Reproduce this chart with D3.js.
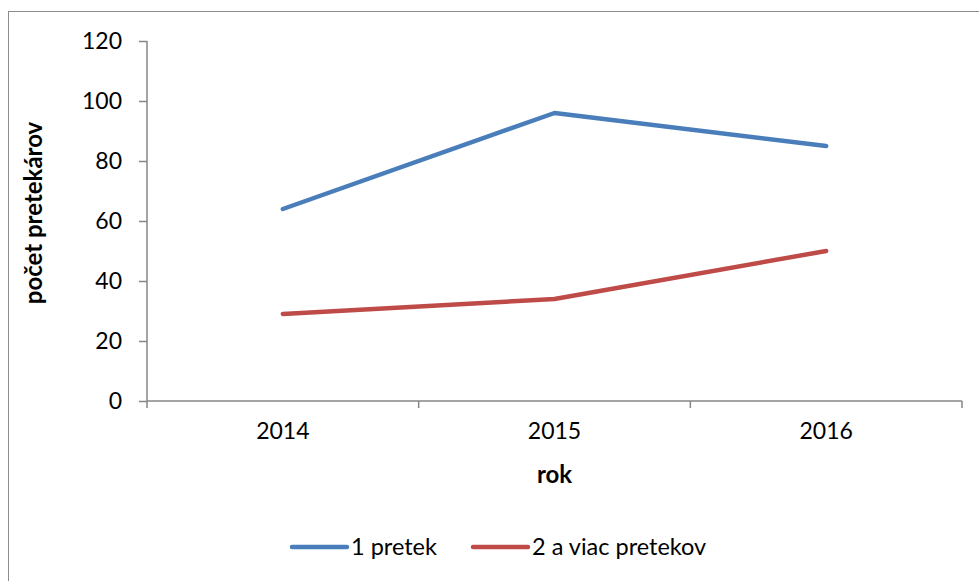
<!DOCTYPE html>
<html>
<head>
<meta charset="utf-8">
<script src="https://cdn.jsdelivr.net/npm/d3@7"></script>
<style>
  body { margin: 0; background: #fff; }
  svg text { font-family: Lato, "Open Sans", sans-serif; fill: #000; }
</style>
</head>
<body>
<svg id="chart"></svg>
<script>
// data
const years = ["2014", "2015", "2016"];
const onerace = [64, 96, 85];
const moreraces = [29, 34, 50];
const seriesNames = ["1 pretek", "2 a viac pretekov"];
const yTicks = [0, 20, 40, 60, 80, 100, 120];

const W = 979, H = 581;
const margin = { top: 41, right: 17, bottom: 180, left: 147 };
const width = W - margin.left - margin.right;
const height = H - margin.top - margin.bottom;

const svg = d3.select("#chart").attr("width", W).attr("height", H);

// chart border
svg.append("rect")
    .attr("x", 8.5).attr("y", 11.5)
    .attr("width", W).attr("height", H)
    .attr("fill", "none").attr("stroke", "#8c8c8c").attr("stroke-width", 1);

const g = svg.append("g").attr("transform", `translate(${margin.left},${margin.top})`);

const x = d3.scaleBand().domain(years).range([0, width]);
const y = d3.scaleLinear().domain([0, 120]).range([height, 0]);

// y axis
const yAxis = g.append("g")
    .call(d3.axisLeft(y).tickValues(yTicks).tickSize(8).tickPadding(17));
yAxis.selectAll("line, path").attr("stroke", "#868686").attr("stroke-width", 1.5);
yAxis.select(".domain").attr("d", `M0,0V${height}`);
yAxis.selectAll("text").attr("font-size", 23).style("font-family", "Lato, sans-serif");

// x axis
const xAxis = g.append("g").attr("transform", `translate(0,${height})`)
    .call(d3.axisBottom(x).tickSize(0).tickPadding(22));
xAxis.select(".domain").attr("d", `M0,0H${width}`).attr("stroke", "#868686").attr("stroke-width", 1.5);
xAxis.selectAll("text").attr("font-size", 23).style("font-family", "Lato, sans-serif");
// category boundary ticks
g.append("g").selectAll("line")
    .data(years.map(d => x(d)).concat([width]))
    .join("line")
    .attr("x1", d => d).attr("x2", d => d)
    .attr("y1", height).attr("y2", height + 7)
    .attr("stroke", "#868686").attr("stroke-width", 1.5);

// axis titles
g.append("text")
    .attr("x", width / 2).attr("y", height + 82)
    .attr("text-anchor", "middle")
    .attr("font-size", 24).attr("font-weight", "bold")
    .text("rok");

g.append("text")
    .attr("transform", "rotate(-90)")
    .attr("x", -height / 2 + 8).attr("y", -105)
    .attr("text-anchor", "middle")
    .attr("font-size", 24).attr("font-weight", "bold")
    .text("počet pretekárov");

// lines
const colors = ["#4a7ebb", "#be4b48"];
const line = d3.line()
    .x((d, i) => x(years[i]) + x.bandwidth() / 2)
    .y(d => y(d));

[onerace, moreraces].forEach((s, i) => {
    g.append("path")
        .datum(s)
        .attr("fill", "none")
        .attr("stroke", colors[i])
        .attr("stroke-width", 4.5)
        .attr("stroke-linejoin", "round")
        .attr("stroke-linecap", "round")
        .attr("d", line);
});

// legend
const legendX = [292, 473];
const legend = svg.append("g");
seriesNames.forEach((name, i) => {
    legend.append("line")
        .attr("x1", legendX[i]).attr("x2", legendX[i] + 55)
        .attr("y1", 547).attr("y2", 547)
        .attr("stroke", colors[i]).attr("stroke-width", 4.5)
        .attr("stroke-linecap", "round");
    legend.append("text")
        .attr("x", legendX[i] + 59).attr("y", 555)
        .attr("font-size", 23.5)
        .text(name);
});
</script>
</body>
</html>
